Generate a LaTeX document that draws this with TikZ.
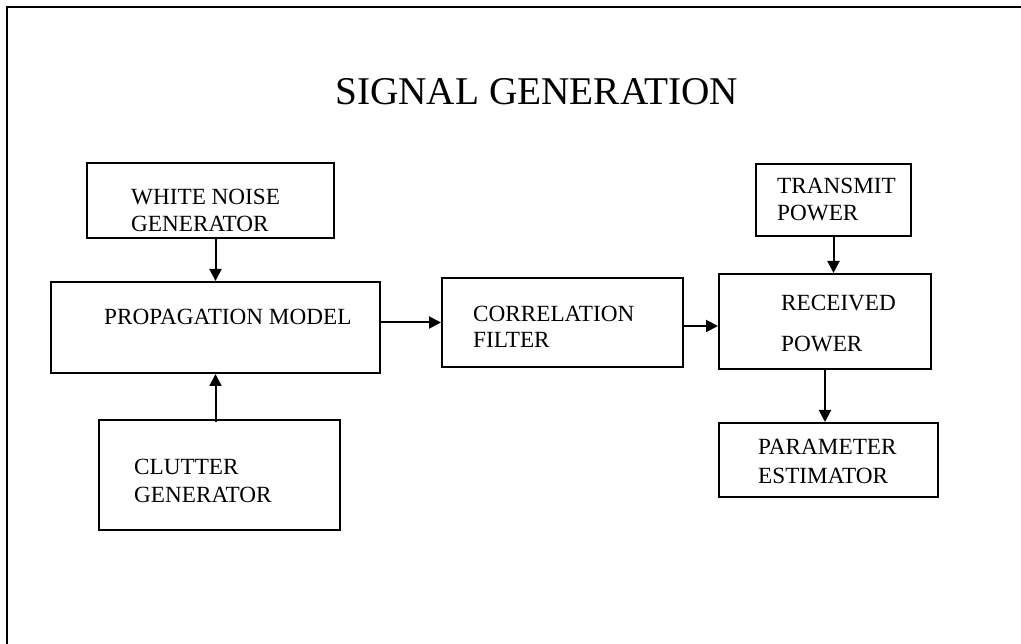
\documentclass[tikz,border=0pt]{standalone}
\usepackage{fontspec}
\setmainfont{Liberation Serif}
\usetikzlibrary{arrows.meta}
\begin{document}
\begin{tikzpicture}[x=1pt,y=-1pt,
  blk/.style={draw,line width=2pt,rectangle,inner sep=0pt},
  lbl/.style={anchor=base west,inner sep=0pt,font=\fontsize{23.2}{27}\selectfont},
  arr/.style={line width=2pt,-{Triangle[length=12pt,width=12pt]}}]
\useasboundingbox (0,0) rectangle (1021,644);
% outer frame (open on the right and bottom)
\draw[line width=2.2pt] (7,644) -- (7,7) -- (1021,7);
% title
\node[anchor=base west,inner sep=0pt,font=\fontsize{39.3}{46}\selectfont] (title) at (335,105) {SIGNAL GENERATION};
% blocks
\node[blk,minimum width=247pt,minimum height=75pt] (wn) at (210.5,200.5) {};
\node[blk,minimum width=329pt,minimum height=91pt] (prop) at (215.5,327.5) {};
\node[blk,minimum width=241pt,minimum height=110pt] (clut) at (219.5,475) {};
\node[blk,minimum width=241pt,minimum height=89pt] (corr) at (562.5,322.5) {};
\node[blk,minimum width=212pt,minimum height=95pt] (recv) at (825,321.5) {};
\node[blk,minimum width=155pt,minimum height=72pt] (trans) at (833.5,200) {};
\node[blk,minimum width=219pt,minimum height=74pt] (param) at (828.5,460) {};
% block texts
\node[lbl] (wn1) at (131,205) {WHITE NOISE};
\node[lbl] (wn2) at (131,232) {GENERATOR};
\node[lbl] (prop1) at (104,325) {PROPAGATION MODEL};
\node[lbl] (clut1) at (134,475) {CLUTTER};
\node[lbl] (clut2) at (134,502) {GENERATOR};
\node[lbl] (corr1) at (473,322) {CORRELATION};
\node[lbl] (corr2) at (473,348) {FILTER};
\node[lbl] (recv1) at (781,311) {RECEIVED};
\node[lbl] (recv2) at (781,352) {POWER};
\node[lbl] (trans1) at (777,194) {TRANSMIT};
\node[lbl] (trans2) at (777,221) {POWER};
\node[lbl] (param1) at (758,455) {PARAMETER};
\node[lbl] (param2) at (758,483) {ESTIMATOR};
% connectors
\draw[arr] (wn.south -| prop.north) -- (prop.north);
\draw[arr] ([yshift=-3pt]clut.north -| prop.south) -- (prop.south);
\draw[arr] (prop.east |- corr.west) -- (corr.west);
\draw[arr] ([yshift=-3.5pt]corr.east) -- ([yshift=-3.5pt]corr.east -| recv.west);
\draw[arr] (trans.south) -- (trans.south |- recv.north);
\draw[arr] (recv.south) -- (recv.south |- param.north);
\end{tikzpicture}
\end{document}
